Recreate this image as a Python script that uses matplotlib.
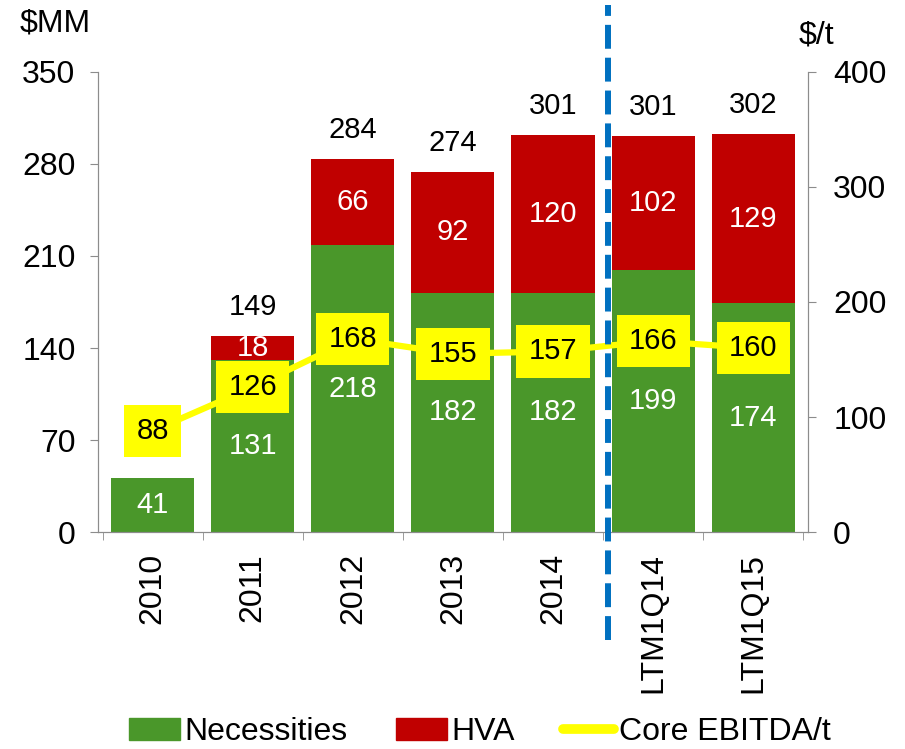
import numpy as np
import matplotlib
matplotlib.use("Agg")
import matplotlib.pyplot as plt
from matplotlib.patches import Patch
from matplotlib.lines import Line2D

plt.rcParams['font.family'] = ['Liberation Sans', 'DejaVu Sans']

categories = ['2010', '2011', '2012', '2013', '2014', 'LTM1Q14', 'LTM1Q15']
necessities = [41, 131, 218, 182, 182, 199, 174]
hva = [0, 18, 66, 92, 120, 102, 129]
totals = [41, 149, 284, 274, 301, 301, 302]
ebitda_t = [88, 126, 168, 155, 157, 166, 160]

green = '#4A972A'
red = '#C00000'
yellow = '#FFFF00'
grey = '#8C8C8C'
fs = 23     # axis / legend text
lfs = 21    # data labels

fig = plt.figure(figsize=(9.05, 7.49), dpi=100)
ax = fig.add_axes([0.108, 0.2897, 0.785, 0.6142])
x = np.arange(len(categories))
w = 0.83

ax.bar(x, necessities, w, color=green, zorder=2)
ax.bar(x, hva, w, bottom=necessities, color=red, zorder=2)

for i in range(len(x)):
    ax.text(x[i], necessities[i] / 2, str(necessities[i]), ha='center', va='center',
            color='white', fontsize=lfs, zorder=3)
    if hva[i] > 0:
        ax.text(x[i], necessities[i] + hva[i] / 2, str(hva[i]), ha='center', va='center',
                color='white', fontsize=lfs, zorder=3)
    ax.text(x[i], necessities[i] + hva[i] + 22, str(totals[i]), ha='center', va='center',
            color='black', fontsize=lfs, zorder=3)

ax.set_xlim(-0.55, 6.55)
ax.set_ylim(0, 350)
ax.set_yticks(np.arange(0, 351, 70))
ax.set_xticks(x)
ax.set_xticklabels(categories, rotation=90, fontsize=fs)
ax.set_xticks(np.arange(-0.5, 6.6, 1), minor=True)
ax.tick_params(axis='x', which='major', length=0, pad=15)
ax.tick_params(axis='x', which='minor', length=6, color=grey, direction='out')
ax.tick_params(axis='y', labelsize=fs, length=6, color=grey, pad=10)
ax.spines['top'].set_visible(False)
for s in ['left', 'bottom', 'right']:
    ax.spines[s].set_color(grey)

ax2 = ax.twinx()
ax2.set_ylim(0, 400)
ax2.set_yticks(np.arange(0, 401, 100))
ax2.tick_params(axis='y', labelsize=fs, length=6, color=grey, pad=12)
ax2.spines['top'].set_visible(False)
for s in ['left', 'bottom', 'right']:
    ax2.spines[s].set_color(grey)
ax2.plot(x, ebitda_t, color=yellow, lw=4.5, zorder=4)
for i in range(len(x)):
    ax2.text(x[i], ebitda_t[i], str(ebitda_t[i]), ha='center', va='center', fontsize=lfs,
             color='black', zorder=6,
             bbox=dict(boxstyle='square,pad=0.42', fc=yellow, ec='none'))

ax2.axvline(4.55, ymin=-0.235, ymax=1.146, color='#0070C0', lw=4.3,
            dashes=(4, 1.5), clip_on=False, zorder=7)

fig.text(0.022, 0.968, '$MM', fontsize=fs, ha='left', va='center')
fig.text(0.883, 0.952, '$/t', fontsize=fs, ha='left', va='center')

handles = [Patch(color=green, label='Necessities'),
           Patch(color=red, label='HVA'),
           Line2D([0], [0], color=yellow, lw=7, solid_capstyle='round', label='Core EBITDA/t')]
fig.legend(handles=handles, loc='lower center', bbox_to_anchor=(0.53, -0.027), ncol=3,
           frameon=False, fontsize=fs, handlelength=1.6, handletextpad=0.15,
           columnspacing=1.5, borderaxespad=0.3)

plt.savefig('out.png', dpi=100)
